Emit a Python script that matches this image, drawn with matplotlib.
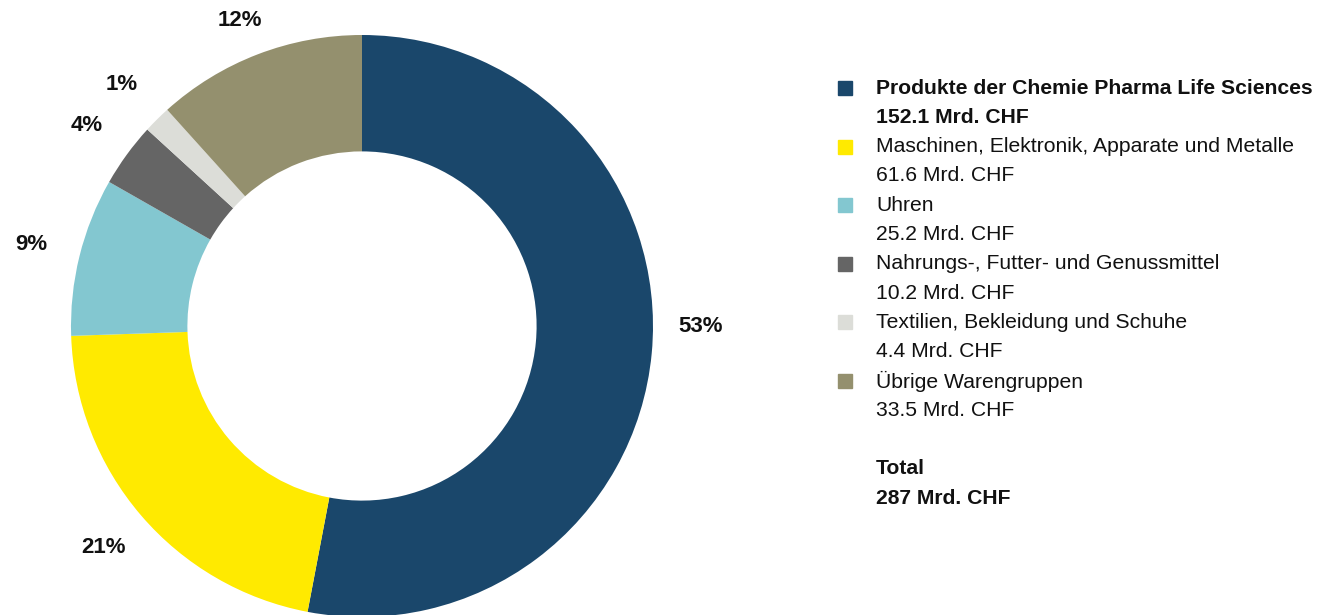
import matplotlib.pyplot as plt
from matplotlib.patches import Rectangle

plt.rcParams['font.family'] = ['Liberation Sans', 'DejaVu Sans']

#%% Daten

kategorien = ["Produkte der Chemie Pharma Life Sciences",
              "Maschinen, Elektronik, Apparate und Metalle",
              "Uhren",
              "Nahrungs-, Futter- und Genussmittel",
              "Textilien, Bekleidung und Schuhe",
              "Übrige Warengruppen"]
werte = [152.1, 61.6, 25.2, 10.2, 4.4, 33.5]
prozent = ["53%", "21%", "9%", "4%", "1%", "12%"]
farben = ['#1a476b', '#ffea00', '#83c7d0', '#656565', '#dcddd8', '#94906e']
total_label = "287 Mrd. CHF"

#%% Grafik

fig = plt.figure(figsize=(13.32, 6.15), dpi=100)
# Ring: Mitte bei (362, 326) px, Radius 291 px
ax = fig.add_axes([(362 - 291)/1332, (615 - 326 - 291)/615, 582/1332, 582/615])

wedges, texts = ax.pie(werte, labels=prozent, colors=farben, startangle=90,
                       counterclock=False, radius=1, labeldistance=1.17,
                       wedgeprops=dict(width=0.4, linewidth=0),
                       textprops=dict(fontsize=16, fontweight='bold', color='#111111'))
for t in texts:
    t.set_horizontalalignment('center')
    t.set_verticalalignment('center')
texts[0].set_y(0)            # 53% auf Höhe der Mitte
texts[-1].set_y(texts[-1].get_position()[1] * 0.96)
ax.set_xlim(-1, 1)
ax.set_ylim(-1, 1)
ax.set_aspect('equal')

# Legende
x_box = 838 / 1332
x_txt = 876 / 1332
zeile = 29.3 / 615
y = 1 - 88 / 615
for i in range(len(kategorien)):
    gewicht = 'bold' if i == 0 else 'normal'
    fig.patches.append(Rectangle((x_box, y - 7/615), 14/1332, 14/615,
                                 transform=fig.transFigure, color=farben[i]))
    fig.text(x_txt, y, kategorien[i], fontsize=15.2, fontweight=gewicht,
             va='center', ha='left', color='#111111')
    fig.text(x_txt, y - zeile, f"{werte[i]} Mrd. CHF", fontsize=15.2,
             fontweight=gewicht, va='center', ha='left', color='#111111')
    y -= 2 * zeile

y -= zeile
fig.text(x_txt, y, "Total", fontsize=15.2, fontweight='bold', va='center', color='#111111')
fig.text(x_txt, y - zeile, total_label, fontsize=15.2, fontweight='bold', va='center', color='#111111')

plt.savefig("out.png", dpi=100)
